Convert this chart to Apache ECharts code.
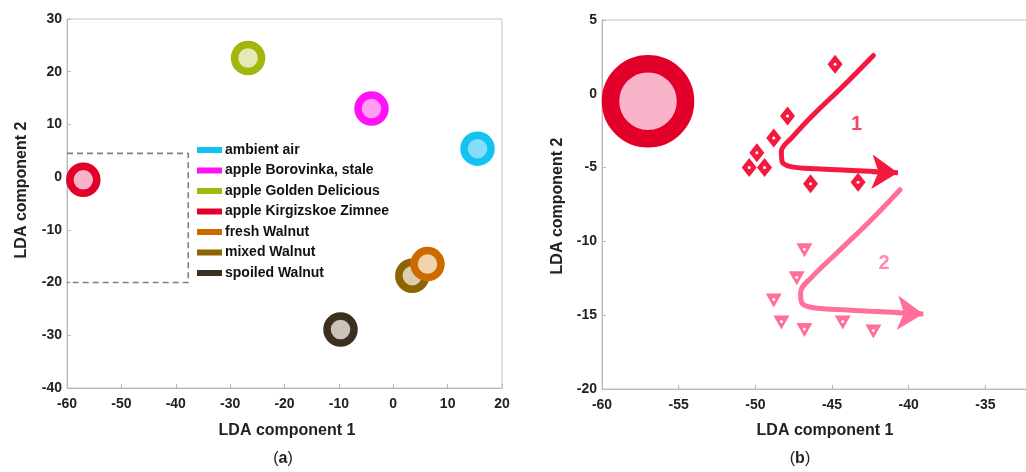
<!DOCTYPE html>
<html><head><meta charset="utf-8">
<script src="https://cdn.jsdelivr.net/npm/echarts@6/dist/echarts.min.js"></script>
<style>html,body{margin:0;padding:0;background:#fff}#c{width:1026px;height:472px}</style>
</head><body><div id="c"></div>
<script>
// ---- data: panel (a)
const groupNames = ['ambient air','apple Borovinka, stale','apple Golden Delicious','apple Kirgizskoe Zimnee','fresh Walnut','mixed Walnut','spoiled Walnut'];
const groupX = [15.5, -4.0, -26.7, -57.0, 6.3, 3.5, -9.7];
const groupY = [5.4, 13.0, 22.6, -0.5, -16.5, -18.7, -28.9];
const zoomBox = [[-60, 4.5], [-37.7, 4.5], [-37.7, -20], [-60, -20]];
// ---- data: panel (b)
const dia1X = [-44.8, -47.9, -48.8, -49.9, -50.4, -49.4, -46.4, -43.3];
const dia1Y = [2.0, -1.5, -3.0, -4.0, -5.0, -5.0, -6.1, -6.0];
const tri2X = [-46.8, -47.3, -48.8, -48.3, -46.8, -44.3, -42.3];
const tri2Y = [-10.6, -12.5, -14.0, -15.5, -16.0, -15.5, -16.1];
const curve1 = [[-42.3,2.6],[-44.2,0.6],[-46.2,-1.4],[-47.6,-2.95],[-48.3,-3.9],[-48.25,-4.6],[-47.6,-4.95],[-46,-5.08],[-44,-5.18],[-42.2,-5.27]];
const arrow1 = [[-42.4,-5.28],[-40.7,-5.35]];
const curve2 = [[-40.56,-6.5],[-42.5,-8.6],[-44.6,-10.7],[-46.3,-12.4],[-47.05,-13.45],[-46.95,-14.2],[-46.2,-14.5],[-44.5,-14.62],[-42.5,-14.74],[-40.7,-14.82]];
const arrow2 = [[-40.8,-14.83],[-39.04,-14.92]];
const curveLabels = [[-43.4, -2.1, '1'], [-41.6, -11.5, '2']];

const F = '"Liberation Sans", Arial, sans-serif';
const ringColors = ['#12C3F2','#FF12F5','#A3B60C','#E2002A','#CC6A00','#8C6400','#3B2F1F'];
const fillColors = ['#86DDF8','#FF9CF3','#E3EAB8','#F8B3C9','#F1D3AC','#DACFAF','#C9C3BC'];
const c1 = '#F5183F', c2 = '#FF6F98';

function axis(gi, min, max, interval, isX) {
  return {
    type: 'value', gridIndex: gi, min, max, interval,
    axisLine: {show: true, onZero: false, lineStyle: {color: '#b8b8b8'}},
    axisTick: {show: true, inside: true, length: 4, lineStyle: {color: '#b8b8b8'}},
    axisLabel: {color: '#222', fontWeight: 'bold', fontSize: 14, fontFamily: F, margin: isX ? 9 : 5},
    splitLine: {show: false}
  };
}

const series = [];
groupNames.forEach((n, i) => {
  series.push({
    type: 'scatter', name: n, xAxisIndex: 0, yAxisIndex: 0,
    data: [[groupX[i], groupY[i]]], symbol: 'circle', symbolSize: 27,
    itemStyle: {color: fillColors[i], borderColor: ringColors[i], borderWidth: 7.5, opacity: 1},
    z: n === 'fresh Walnut' ? 4 : 3, silent: true
  });
});
series.push({
  type: 'line', xAxisIndex: 0, yAxisIndex: 0, data: zoomBox, symbol: 'none',
  lineStyle: {color: '#808080', width: 1.6, type: [6, 4]}, z: 1, silent: true
});
// panel (b)
series.push({
  type: 'scatter', xAxisIndex: 1, yAxisIndex: 1,
  data: [[groupX[3], groupY[3]]], symbol: 'circle', symbolSize: 75,
  itemStyle: {color: fillColors[3], borderColor: ringColors[3], borderWidth: 17.5, opacity: 1}, z: 3, silent: true
});
series.push({type: 'line', xAxisIndex: 1, yAxisIndex: 1, data: curve1, smooth: 0.35, symbol: 'none',
  lineStyle: {color: c1, width: 5, cap: 'round'}, z: 2, silent: true});
series.push({type: 'line', xAxisIndex: 1, yAxisIndex: 1, data: curve2, smooth: 0.35, symbol: 'none',
  lineStyle: {color: c2, width: 5, cap: 'round'}, z: 2, silent: true});
series.push({type: 'lines', coordinateSystem: 'cartesian2d', xAxisIndex: 1, yAxisIndex: 1,
  symbol: ['none', 'arrow'], symbolSize: [18, 26],
  lineStyle: {color: c1, width: 5, opacity: 1}, data: [{coords: arrow1}], z: 2, silent: true});
series.push({type: 'lines', coordinateSystem: 'cartesian2d', xAxisIndex: 1, yAxisIndex: 1,
  symbol: ['none', 'arrow'], symbolSize: [18, 26],
  lineStyle: {color: c2, width: 5, opacity: 1}, data: [{coords: arrow2}], z: 2, silent: true});
series.push({type: 'scatter', xAxisIndex: 1, yAxisIndex: 1,
  data: dia1X.map((x, i) => [x, dia1Y[i]]), symbol: 'diamond', symbolSize: [15, 19],
  itemStyle: {color: c1, opacity: 1}, z: 4, silent: true});
series.push({type: 'scatter', xAxisIndex: 1, yAxisIndex: 1,
  data: dia1X.map((x, i) => [x, dia1Y[i]]), symbol: 'circle', symbolSize: 3,
  itemStyle: {color: '#fff', opacity: 1}, z: 5, silent: true});
series.push({type: 'scatter', xAxisIndex: 1, yAxisIndex: 1,
  data: tri2X.map((x, i) => [x, tri2Y[i]]), symbol: 'triangle', symbolRotate: 180, symbolSize: [16, 14],
  itemStyle: {color: c2, opacity: 1}, z: 4, silent: true});
series.push({type: 'scatter', xAxisIndex: 1, yAxisIndex: 1,
  data: tri2X.map((x, i) => [x, tri2Y[i]]), symbol: 'circle', symbolSize: 3, symbolOffset: [0, -1],
  itemStyle: {color: '#fff', opacity: 1}, z: 5, silent: true});
series.push({type: 'scatter', xAxisIndex: 1, yAxisIndex: 1,
  data: curveLabels.map((d, i) => ({value: d, label: {color: i === 0 ? c1 : c2}})),
  symbolSize: 1, itemStyle: {color: 'rgba(0,0,0,0)'},
  label: {show: true, position: 'inside', formatter: p => p.value[2], fontFamily: F, fontWeight: 'bold', fontSize: 20},
  z: 5, silent: true});

const chart = echarts.init(document.getElementById('c'), null, {renderer: 'canvas'});
chart.setOption({
  animation: false,
  backgroundColor: '#fff',
  grid: [
    {left: 67, top: 19, width: 435, height: 369, show: true, borderColor: '#c4c4c4', borderWidth: 1, outerBoundsMode: 'none', containLabel: false},
    {left: 602, top: 20, width: 460, height: 369, show: true, borderColor: '#c4c4c4', borderWidth: 1, outerBoundsMode: 'none', containLabel: false}
  ],
  xAxis: [axis(0, -60, 20, 10, true), axis(1, -60, -30, 5, true)],
  yAxis: [axis(0, -40, 30, 10, false), axis(1, -20, 5, 5, false)],
  legend: {
    orient: 'vertical', left: 197, top: 143, icon: 'rect', itemWidth: 25, itemHeight: 6, itemGap: 6.5,
    selectedMode: false, padding: 0,
    textStyle: {fontFamily: F, fontWeight: 'bold', fontSize: 14, color: '#111', padding: [0, 0, 0, -2]},
    data: groupNames.map((n, i) => ({name: n, itemStyle: {color: ringColors[i], borderWidth: 0}}))
  },
  graphic: [
    {type: 'text', x: 287, y: 431, style: {text: 'LDA component 1', font: 'bold 16px ' + F, fill: '#222', textAlign: 'center', textVerticalAlign: 'middle'}},
    {type: 'text', x: 825, y: 431, style: {text: 'LDA component 1', font: 'bold 16px ' + F, fill: '#222', textAlign: 'center', textVerticalAlign: 'middle'}},
    {type: 'text', x: 22, y: 190, rotation: Math.PI / 2, style: {text: 'LDA component 2', font: 'bold 16px ' + F, fill: '#222', textAlign: 'center', textVerticalAlign: 'middle'}},
    {type: 'text', x: 558, y: 206, rotation: Math.PI / 2, style: {text: 'LDA component 2', font: 'bold 16px ' + F, fill: '#222', textAlign: 'center', textVerticalAlign: 'middle'}},
    {type: 'text', x: 283, y: 459, style: {text: '({b|a})', font: '16px ' + F, fill: '#222', textAlign: 'center', textVerticalAlign: 'middle',
      rich: {b: {font: 'bold 16px ' + F, fill: '#222'}}}},
    {type: 'text', x: 800, y: 459, style: {text: '({b|b})', font: '16px ' + F, fill: '#222', textAlign: 'center', textVerticalAlign: 'middle',
      rich: {b: {font: 'bold 16px ' + F, fill: '#222'}}}}
  ],
  series
});
</script></body></html>
